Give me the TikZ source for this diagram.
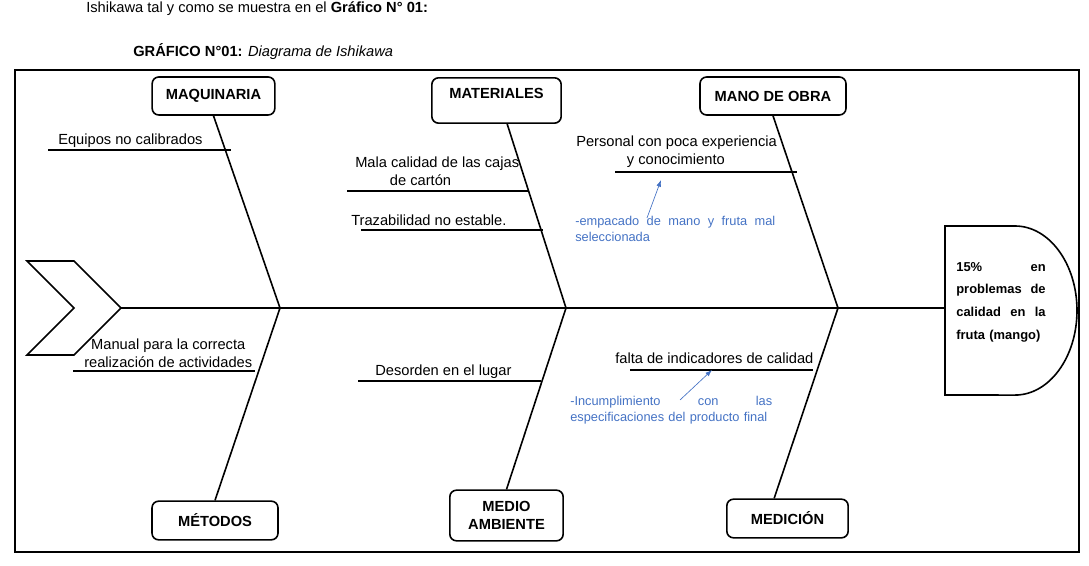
\documentclass[tikz,border=0pt]{standalone}
\usepackage{fontspec}
\setmainfont{Liberation Sans}
\usetikzlibrary{arrows.meta}

\definecolor{notablue}{RGB}{68,114,196}

\begin{document}
\begin{tikzpicture}[x=0.75pt,y=-0.75pt,
   categoria/.style={
      draw,
      line width = 1.2pt,
      rounded corners = 5pt,
      inner sep = 0pt,
      align = center,
      font = \bfseries\fontsize{11}{13.5}\selectfont
   },
   causa/.style={
      inner sep = 0pt,
      anchor = west,
      font = \fontsize{11}{13.5}\selectfont
   },
   nota/.style={
      inner sep = 0pt,
      anchor = west,
      align = left,
      text = notablue,
      font = \fontsize{9.6}{12}\selectfont
   },
   espina/.style={line width = 1.2pt},
   flecha/.style={draw = notablue, line width = .5pt, -{Latex[length=5pt,width=3.5pt]}}
]
   \useasboundingbox (0,0) rectangle (1089,566);

   \node[causa] (intro) at (86,9) {Ishikawa tal y como se muestra en el \textbf{Gráfico N° 01:}};
   \node[causa] (titulo) at (133,52) {\textbf{GRÁFICO N°01:} \textit{Diagrama de Ishikawa}};

   \draw[line width = .9pt] (15,70) rectangle (1079,552);

   % cola y cabeza
   \draw[espina] (27,261) -- (74,261) -- (121,308) -- (74,355) -- (27,355) -- (74,308) -- cycle;
   \draw[espina] (945,226) -- (1015,226) arc[start angle=90, end angle=-90, x radius=46.5pt, y radius=63.4pt] -- (945,395) -- cycle;
   \node[inner sep=0pt, text width=67pt, align=left, font=\bfseries\fontsize{9.7}{17}\selectfont] (efecto) at (1001,302)
      {15\%\hfill en\\ problemas\hfill de\\ calidad\hfill en\hfill la\\ fruta (mango)};

   % espina central
   \coordinate (cola) at (121,308);
   \coordinate (cabeza) at (945,308);
   \coordinate (j1) at (280,308);
   \coordinate (j2) at (566,308);
   \coordinate (j3) at (838,308);
   \draw[espina] (cola) -- (cabeza);

   % categorias
   \node[categoria, minimum width=92pt, minimum height=28.5pt] (maq) at (213.5,96) {MAQUINARIA};
   \node[categoria, minimum width=97pt, minimum height=34pt, text depth=11pt] (mat) at (496.5,100.5) {MATERIALES};
   \node[categoria, minimum width=109.5pt, minimum height=28.5pt] (mano) at (773,96) {MANO DE OBRA};
   \node[categoria, minimum width=94.5pt, minimum height=29pt] (met) at (215,520.5) {MÉTODOS};
   \node[categoria, minimum width=85pt, minimum height=38pt] (medio) at (506.5,515.5) {MEDIO\\ AMBIENTE};
   \node[categoria, minimum width=91pt, minimum height=29pt] (medic) at (787.5,518.5) {MEDICIÓN};

   \draw[espina] (maq.south) -- (j1) -- (met.north);
   \draw[espina] ([xshift=8pt]mat.south) -- (j2) -- (medio.north);
   \draw[espina] (mano.south) -- (j3) -- ([xshift=-10pt]medic.north);

   % causas
   \foreach \xa/\xb/\y in {48/231/150, 347/528/191, 361/543/230, 615/797/172,
                           73/255/371, 358/541/381, 630/813/370}
      \draw[espina] (\xa,\y) -- (\xb,\y);

   \node[causa] (equipos) at (58,141) {Equipos no calibrados};
   \node[causa, align=left] (cajas) at (355,171) {Mala calidad de las cajas\\ \hspace*{26pt}de cartón};
   \node[causa] (traza) at (351,220) {Trazabilidad no estable.};
   \node[causa, align=left] (personal) at (576,152) {Personal con poca experiencia\\ \hspace*{38pt}y conocimiento};
   \node[causa, align=center] (manual) at (84,353) {Manual para la correcta\\ realización de actividades};
   \node[causa] (desorden) at (375,372) {Desorden en el lugar};
   \node[causa] (falta) at (615,358) {falta de indicadores de calidad};

   % notas
   \node[nota, text width=150pt] (nota1) at (575,229)
      {-empacado\hfill de\hfill mano\hfill y\hfill fruta\hfill mal\\ seleccionada};
   \node[nota, text width=151.5pt] (nota2) at (570,410)
      {-Incumplimiento\hfill con\hfill las\\ especificaciones del producto final};

   \coordinate (n1a) at (647,218);
   \coordinate (n1b) at (661,180);
   \coordinate (n2a) at (680,400);
   \coordinate (n2b) at (712,370);
   \draw[flecha] (n1a) -- (n1b);
   \draw[flecha] (n2a) -- (n2b);

\end{tikzpicture}
\end{document}
